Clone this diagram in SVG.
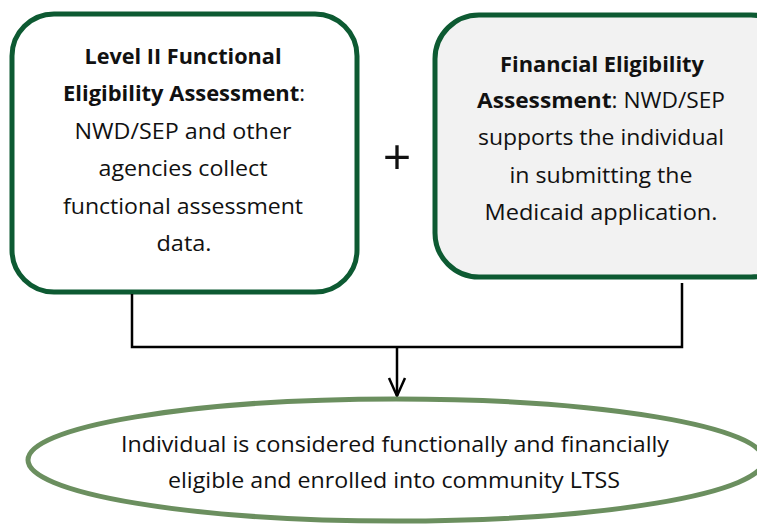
<svg xmlns="http://www.w3.org/2000/svg" width="757" height="525" viewBox="0 0 757 525">
<style>
text{font-family:"Open Sans","Liberation Sans",sans-serif;fill:#111;text-anchor:middle}
.t{font-size:22px}
.b{font-weight:bold}
.e{font-size:21px}
.box{stroke:#0d5a32;stroke-width:5}
.con{fill:none;stroke:#000;stroke-width:2.5}
</style>
<rect width="757" height="525" fill="#fff"/>
<g id="functional">
<rect class="box" x="12" y="14" width="345" height="278" rx="42" fill="#fff"/>
<text class="t b" x="183" y="64" textLength="197" lengthAdjust="spacingAndGlyphs">Level II Functional</text>
<text class="t" x="184" y="101" textLength="242" lengthAdjust="spacingAndGlyphs"><tspan class="b">Eligibility Assessment</tspan>:</text>
<text class="t" x="183" y="139" textLength="217" lengthAdjust="spacingAndGlyphs">NWD/SEP and other</text>
<text class="t" x="183" y="176" textLength="169" lengthAdjust="spacingAndGlyphs">agencies collect</text>
<text class="t" x="183" y="214" textLength="240" lengthAdjust="spacingAndGlyphs">functional assessment</text>
<text class="t" x="184" y="251" textLength="55" lengthAdjust="spacingAndGlyphs">data.</text>
</g>
<g id="plus">
<text x="397" y="175" style="font-size:50px">+</text>
</g>
<g id="financial">
<rect class="box" x="435" y="15" width="360" height="262" rx="44" fill="#f2f2f2"/>
<text class="t b" x="602" y="72" textLength="204" lengthAdjust="spacingAndGlyphs">Financial Eligibility</text>
<text class="t" x="601" y="108" textLength="248" lengthAdjust="spacingAndGlyphs"><tspan class="b">Assessment</tspan>: NWD/SEP</text>
<text class="t" x="601" y="145" textLength="246" lengthAdjust="spacingAndGlyphs">supports the individual</text>
<text class="t" x="601" y="183" textLength="183" lengthAdjust="spacingAndGlyphs">in submitting the</text>
<text class="t" x="601" y="220" textLength="233" lengthAdjust="spacingAndGlyphs">Medicaid application.</text>
</g>
<g id="connectors">
<path class="con" d="M132 294 V347 H682 V283"/>
<path class="con" d="M397 347 V396"/>
<path class="con" d="M389 378 L397 396 L405 378"/>
</g>
<g id="outcome">
<ellipse cx="396" cy="460" rx="368" ry="61" fill="#fff" stroke="#6b8f5f" stroke-width="5"/>
<text class="e" x="395" y="452" textLength="548" lengthAdjust="spacingAndGlyphs">Individual is considered functionally and financially</text>
<text class="e" x="394" y="488" textLength="452" lengthAdjust="spacingAndGlyphs">eligible and enrolled into community LTSS</text>
</g>
</svg>
